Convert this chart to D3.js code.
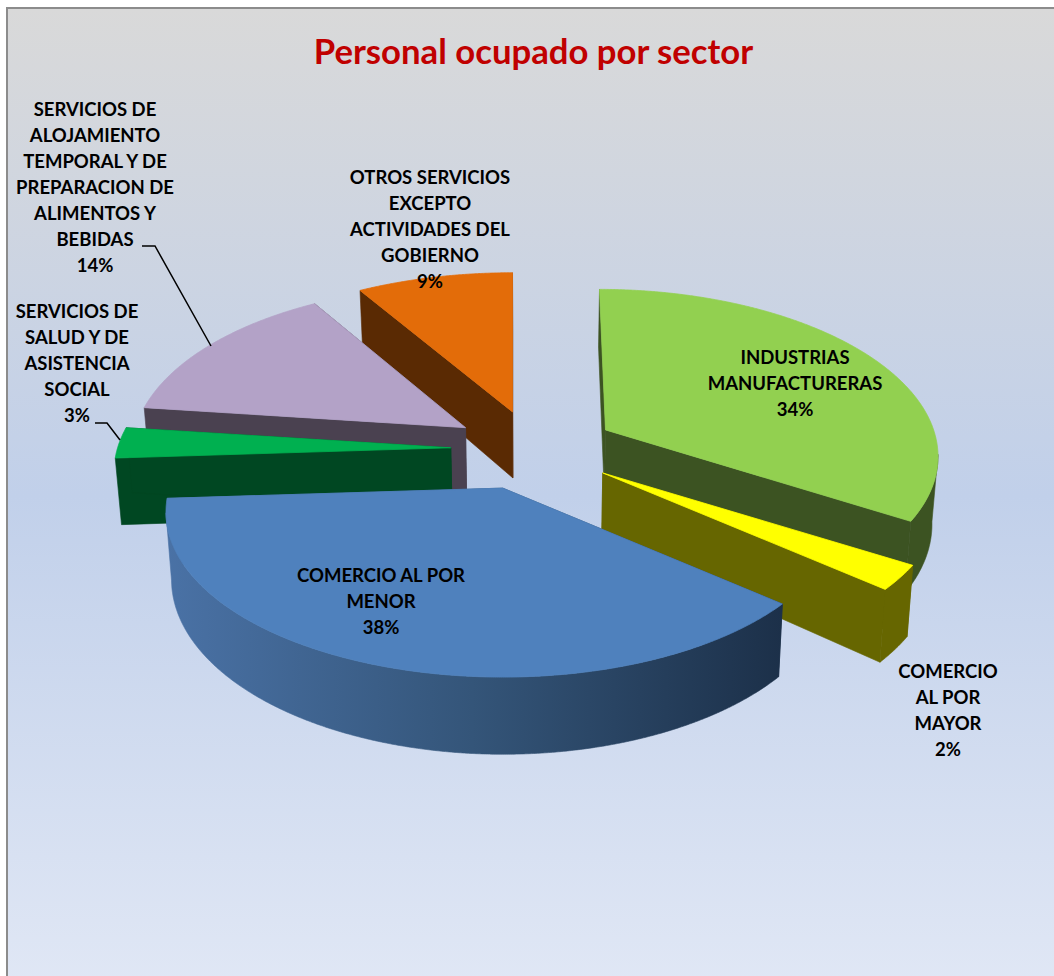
<!DOCTYPE html>
<html>
<head>
<meta charset="utf-8">
<script src="https://cdnjs.cloudflare.com/ajax/libs/d3/7.8.5/d3.min.js"></script>
<style>
html,body{margin:0;padding:0;background:#fff;overflow:hidden}
text{font-family:Lato,"Open Sans",sans-serif;font-weight:700}
</style>
</head>
<body>
<svg id="chart" width="1054" height="976"></svg>
<script>
// ---- data ----
const sectors = ["INDUSTRIAS MANUFACTURERAS","COMERCIO AL POR MAYOR","COMERCIO AL POR MENOR","SERVICIOS DE SALUD Y DE ASISTENCIA SOCIAL","SERVICIOS DE ALOJAMIENTO TEMPORAL Y DE PREPARACION DE ALIMENTOS Y BEBIDAS","OTROS SERVICIOS EXCEPTO ACTIVIDADES DEL GOBIERNO"];
const shares = [33.8,2.45,37.75,3,14.4,8.6];
const labelLines = [
  ["INDUSTRIAS","MANUFACTURERAS"],
  ["COMERCIO","AL POR","MAYOR"],
  ["COMERCIO AL POR","MENOR"],
  ["SERVICIOS DE","SALUD Y DE","ASISTENCIA","SOCIAL"],
  ["SERVICIOS DE","ALOJAMIENTO","TEMPORAL Y DE","PREPARACION DE","ALIMENTOS Y","BEBIDAS"],
  ["OTROS SERVICIOS","EXCEPTO","ACTIVIDADES DEL","GOBIERNO"]
];
const title = "Personal ocupado por sector";

// ---- styles / layout ----
const topColors  = ["#92d050","#ffff00","#4f81bd","#00b050","#b3a2c7","#e36c09"];
const wallColors = ["#3c5322","#666600","url(#blueWall)","#004722","#4a4150","#5a2a03"];
const rimScaleX  = [0.965,0.99,0.98,0.98,0.97,0.98];
const rimScaleY  = [0.99,1,0.995,1,1,0.98];
const rimShear   = [6,0,0,0,0,0];
const apexNudgeX = [0,0,-4,0,0,0];
const labelAnchors = [[795,358],[948,672],[381,576],[77,312],[95,110],[430,178]];
const paintOrder = [5,4,3,0,1,2];
const W=1054,H=976;
const C=[534,449], rx=340, ry=162.5, k=0.1446, depth=66, explode=0.245;

const svg=d3.select("#chart");
const defs=svg.append("defs");
const bg=defs.append("linearGradient").attr("id","bg").attr("x1",0).attr("y1",0).attr("x2",0).attr("y2",1);
[[0,"#d9d9d9"],[0.5,"#c1d0ea"],[1,"#e0e7f5"]].forEach(s=>bg.append("stop").attr("offset",s[0]).attr("stop-color",s[1]));
const bw=defs.append("linearGradient").attr("id","blueWall").attr("gradientUnits","userSpaceOnUse").attr("x1",163).attr("y1",0).attr("x2",782).attr("y2",0);
[[0,"#4a72a6"],[0.5,"#345579"],[1,"#1c3049"]].forEach(s=>bw.append("stop").attr("offset",s[0]).attr("stop-color",s[1]));

svg.append("rect").attr("x",7).attr("y",8).attr("width",W).attr("height",H)
  .attr("fill","url(#bg)").attr("stroke","#8c8c8c").attr("stroke-width",2);

svg.append("text").attr("x",533.5).attr("y",64).attr("text-anchor","middle")
  .attr("font-size",34.7).attr("fill","#c00000").text(title);

// perspective projection of a ground-plane point
const persp=(u,v)=>{const s=1/(1-k*v);return [rx*u*s,ry*v*s,s];};
const arcs=d3.pie().sort(null).value(d=>d)(shares);
const line=d3.line();
const dir=t=>[Math.sin(t),-Math.cos(t)];
const span=(a,b)=>d3.range(a,b,0.005).concat([b]);

function lower(p,s){return [C[0]+(p[0]-C[0])*0.985,p[1]+depth*s];}

paintOrder.forEach(i=>{
  const a=arcs[i], mid=(a.startAngle+a.endAngle)/2, md=dir(mid);
  const off=persp(md[0]*explode,md[1]*explode);
  const ax=C[0]+off[0]+apexNudgeX[i], ay=C[1]+off[1];
  const P=t=>{const d=dir(t),q=persp(d[0],d[1]);
    return {top:[ax+q[0]*rimScaleX[i]+rimShear[i]*d[1],ay+q[1]*rimScaleY[i]],s:q[2],v:d[1]};};
  const apexTop=[ax,ay], apexBot=lower(apexTop,1);
  const g=svg.append("g");
  const wall=(pts)=>g.append("path").attr("d",line(pts)+"Z").attr("fill",wallColors[i])
    .attr("stroke",wallColors[i]).attr("stroke-width",0.6);
  [a.startAngle,a.endAngle].forEach(t=>{
    const p=P(t);
    wall([apexTop,p.top,lower(p.top,p.s),apexBot]);
  });
  const vis=span(a.startAngle,a.endAngle).map(P).filter(p=>p.v>=k);
  if(vis.length>1){
    wall(vis.map(p=>p.top).concat(vis.map(p=>lower(p.top,p.s)).reverse()));
  }
  const rim=span(a.startAngle,a.endAngle).map(t=>P(t).top);
  g.append("path").attr("d",line([apexTop].concat(rim))+"Z").attr("fill",topColors[i])
    .attr("stroke",topColors[i]).attr("stroke-width",0.8);
});

// leader lines
const leaders=[[[142,246],[155,246],[211,346]],[[95,423],[107,423],[120,440]]];
leaders.forEach(l=>svg.append("path").attr("d",line(l)).attr("fill","none").attr("stroke","#000").attr("stroke-width",1.5));

// labels
labelLines.forEach((ls,i)=>{
  const [x,y]=labelAnchors[i];
  const t=svg.append("text").attr("text-anchor","middle").attr("font-size",18.5).attr("fill","#000");
  ls.concat([Math.round(shares[i])+"%"]).forEach((s,j)=>{
    t.append("tspan").attr("x",x).attr("y",y+j*26).attr("dy","0.35em").text(s);
  });
});
</script>
</body>
</html>
